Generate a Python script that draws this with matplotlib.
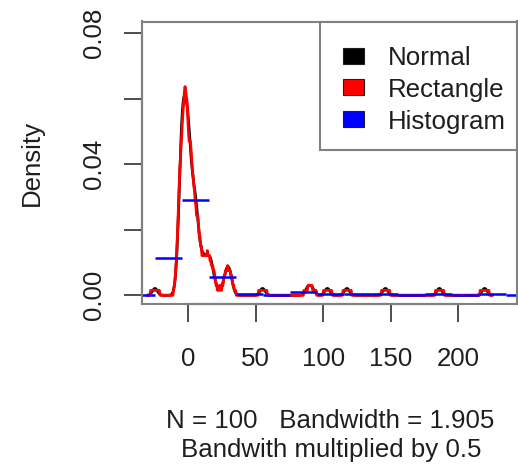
import numpy as np
import matplotlib
matplotlib.use("Agg")
import matplotlib.pyplot as plt
from matplotlib.patches import Rectangle

plt.rcParams["font.family"] = ["Liberation Sans", "DejaVu Sans"]

# ---- data -------------------------------------------------------------
# main cluster of observations around zero
core = [-8.0, -7.25, -6.75,
        -6.38, -6.13, -5.88, -5.63,
        -5.43, -5.29, -5.14, -5.0, -4.86, -4.71, -4.57,
        -4.44, -4.31, -4.19, -4.06, -3.94, -3.81, -3.69, -3.56,
        -3.43, -3.29, -3.14, -2.86, -2.71,
        -2.43, -2.29, -2.14, -1.86, -1.71, -1.57,
        -1.43, -1.29, -1.14, -1.0, -0.86, -0.71, -0.57,
        -0.42, -0.25, -0.08, 0.08, 0.25, 0.42,
        0.6, 0.8, 1.0, 1.2, 1.4,
        1.63, 1.88, 2.13, 2.38,
        2.75, 3.25, 4.0, 4.6, 4.8, 5.8, 6.8]
# right shoulder of the main cluster
shoulder = [3.5, 4.1, 4.5, 5.1, 5.5, 6.0, 6.5, 7.0, 7.5, 8.5, 9.5, 10.0, 11.0, 11.5,
            12.5, 13.5, 14.0, 15.0, 16.0, 16.5, 17.0, 18.0]
# secondary group near 30
second = [20.5, 26.0, 28.0, 29.0, 29.5, 30.5, 32.0]
# isolated values
outliers = [-24.7, 55.0, 88.5, 91.5, 103.0, 117.5, 146.0, 186.0, 219.5]

bandwidth = 1.905

# histogram: counts per 20-wide bin, first bin starting at -44.7
hist_start = -44.7
hist_width = 20
hist_counts = [0, 23, 58, 11, 1, 0, 2, 1, 1, 1, 0, 1, 0, 1, 0]

legend_labels = ["Normal", "Rectangle", "Histogram"]
legend_colors = ["black", "red", "blue"]

# ---- density estimates ------------------------------------------------
obs = np.array(core + shoulder + second + outliers, dtype=float)
n = obs.size
grid = np.linspace(obs.min() - 3 * bandwidth, obs.max() + 3 * bandwidth, 512)
diff = (grid[:, None] - obs[None, :]) / bandwidth
dens_normal = np.exp(-0.5 * diff ** 2).sum(axis=1) / (n * bandwidth * np.sqrt(2 * np.pi))
half = bandwidth * np.sqrt(3.0)
dens_rect = (np.abs(grid[:, None] - obs[None, :]) < half).sum(axis=1) / (n * 2 * half)

edges = hist_start + hist_width * np.arange(len(hist_counts) + 1)
hist_dens = np.array(hist_counts) / (n * hist_width)

# ---- figure -----------------------------------------------------------
W, H = 518, 468
fig = plt.figure(figsize=(W / 100, H / 100), dpi=100)
fig.patch.set_facecolor("white")

ax_l, ax_r, ax_t, ax_b = 142, 517, 21.5, 304
ax = fig.add_axes([ax_l / W, 1 - ax_b / H, (ax_r - ax_l) / W, (ax_b - ax_t) / H])
ax.set_xlim(-34.3, 243.5)
ax.set_ylim(-0.00265, 0.0835)

ax.plot(grid, dens_normal, color="black", lw=2.0, solid_capstyle="round")
ax.plot(grid, dens_rect, color="red", lw=2.0, solid_capstyle="round")
ax.hlines(hist_dens, edges[:-1], edges[1:], color="blue", lw=1.8)

box_col = "#808080"
axis_col = "#4d4d4d"
for s in ax.spines.values():
    s.set_color(box_col)
    s.set_linewidth(1.5)

xt = [0, 50, 100, 150, 200]
yt = [0.0, 0.02, 0.04, 0.06, 0.08]
ax.set_xticks(xt)
ax.set_xticklabels([str(v) for v in xt])
ax.set_yticks(yt)
ax.set_yticklabels(["0.00", "", "0.04", "", "0.08"])
ax.tick_params(axis="both", direction="out", length=13, width=1.4,
               color=axis_col, labelsize=18.6, labelcolor="#1e1e1e")
ax.tick_params(axis="x", pad=17.8)
ax.tick_params(axis="y", pad=13.2)
for lab in ax.get_yticklabels():
    lab.set_rotation(90)
    lab.set_verticalalignment("center")

# axis lines spanning the tick range
ax.plot([xt[0], xt[-1]], [0, 0], transform=ax.get_xaxis_transform(),
        color=axis_col, lw=1.5, clip_on=False)
ax.plot([0, 0], [yt[0], yt[-1]], transform=ax.get_yaxis_transform(),
        color=axis_col, lw=1.5, clip_on=False)

# ---- legend -----------------------------------------------------------
def fx(px):
    return px / W

def fy(py):
    return 1 - py / H

leg_l, leg_t, leg_b = 320, 21.5, 150
fig.patches.append(Rectangle((fx(leg_l), fy(leg_b)), (ax_r - leg_l) / W, (leg_b - leg_t) / H,
                             transform=fig.transFigure, facecolor="white",
                             edgecolor=box_col, lw=1.5, zorder=5))
for i, (lab, col) in enumerate(zip(legend_labels, legend_colors)):
    cy = 55.5 + 31.8 * i
    fig.patches.append(Rectangle((fx(342.5), fy(cy + 8)), 21 / W, 16 / H,
                                 transform=fig.transFigure, facecolor=col,
                                 edgecolor="#202020", lw=0.8, zorder=6))
    fig.text(fx(388), fy(cy + 9.5), lab, fontsize=18.6, color="#1e1e1e",
             ha="left", va="baseline", zorder=7)

# ---- axis titles ------------------------------------------------------
fig.text(fx(31.7), fy(163), "Density", rotation=90, fontsize=18.6,
         color="#1e1e1e", ha="center", va="center")
fig.text(fx(330), fy(428.3), "N = %d   Bandwidth = %.3f" % (n, bandwidth),
         fontsize=18.6, color="#1e1e1e", ha="center", va="baseline")
fig.text(fx(331.5), fy(457.5), "Bandwith multiplied by 0.5",
         fontsize=18.6, color="#1e1e1e", ha="center", va="baseline")

fig.savefig("out.png", dpi=100, facecolor="white")
